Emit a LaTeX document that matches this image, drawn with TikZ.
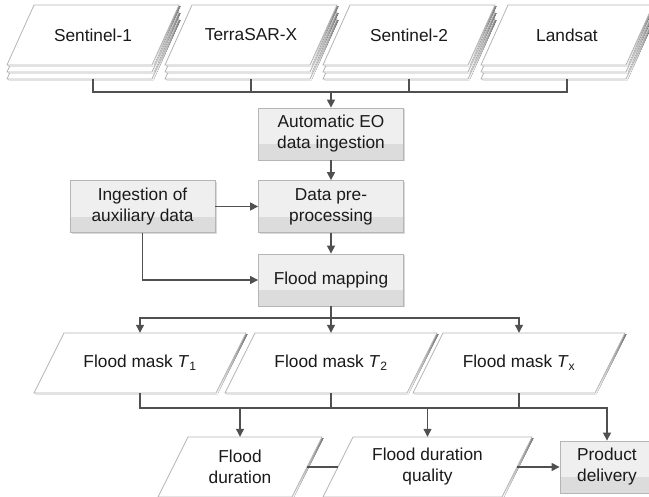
\documentclass[tikz,border=0pt]{standalone}
\usepackage{fontspec}
\setmainfont{Liberation Sans}
\usetikzlibrary{arrows.meta,calc,shadows}
\definecolor{edge}{HTML}{B5B5B5}
\definecolor{conn}{HTML}{505050}
\definecolor{boxtop}{HTML}{EFEFEF}
\definecolor{boxbot}{HTML}{DCDCDC}
\definecolor{shade}{HTML}{E6E6E6}
\definecolor{txt}{HTML}{1A1A1A}
% #1 cx, #2 cy, #3 width, #4 height, #5 skew
\newcommand\parashape[5]{%
  \fill[shade] ({#1-#3/2+#5/2+1.5},{#2-#4/2+1.2}) -- ++(#3,0) -- ++({-#5},#4) -- ++({-#3},0) -- cycle;
  \filldraw[parafill] ({#1-#3/2+#5/2},{#2-#4/2}) -- ++(#3,0) -- ++({-#5},#4) -- ++({-#3},0) -- cycle;
}
\tikzset{
  lbl/.style={font=\fontsize{17.3}{21}\selectfont, text=txt, align=center},
  parafill/.style={draw=edge, fill=white, line width=0.8pt},
  paranode/.style={lbl, draw=none, inner sep=0pt},
  gbox/.style={lbl, draw=edge, line width=0.8pt, minimum width=145pt, minimum height=52pt, inner sep=2pt,
    drop shadow={shadow xshift=1.5pt, shadow yshift=-1.5pt, fill=black!15, opacity=1},
    path picture={
      \fill[boxtop] (path picture bounding box.north west) rectangle (path picture bounding box.south east);
      \fill[boxbot] ($(path picture bounding box.south west)!0.3!(path picture bounding box.north west)$) rectangle (path picture bounding box.south east);
    }},
  conn/.style={draw=conn, line width=1.2pt},
  arr/.style={conn, -{Triangle[length=8pt,width=8pt]}}
}
\begin{document}
\begin{tikzpicture}[x=1pt,y=-1pt]
\useasboundingbox (0,0) rectangle (649,497);
% top stacks
\foreach \cx in {93,251,409,567}{
  \parashape{\cx}{49}{145}{60}{27}
  \parashape{\cx}{42}{145}{60}{27}
  \parashape{\cx}{35}{145}{60}{27}
}
\node[paranode, minimum width=145pt, minimum height=60pt] (s1) at (93,35) {Sentinel-1};
\node[paranode, minimum width=145pt, minimum height=60pt] (s2) at (251,35) {TerraSAR-X};
\node[paranode, minimum width=145pt, minimum height=60pt] (s3) at (409,35) {Sentinel-2};
\node[paranode, minimum width=145pt, minimum height=60pt] (s4) at (567,35) {Landsat};
\coordinate (s1b) at (93,79);
\coordinate (s2b) at (251,79);
\coordinate (s3b) at (409,79);
\coordinate (s4b) at (567,79);
\coordinate (jtop) at (331,92);

% processing boxes
\node[gbox] (auto) at (331,134) {Automatic EO\\data ingestion};
\node[gbox] (pre) at (331,206.5) {Data pre-\\processing};
\node[gbox] (fmap) at (331,280) {Flood mapping};
\node[gbox] (aux) at (142.5,206.5) {Ingestion of\\auxiliary data};

% flood masks
\parashape{140}{363}{182}{60}{30}
\parashape{331}{363}{182}{60}{30}
\parashape{519}{363}{182}{60}{30}
\node[paranode, minimum width=182pt, minimum height=60pt] (m1) at (140,363) {Flood mask \textit{T}\textsubscript{1}};
\node[paranode, minimum width=182pt, minimum height=60pt] (m2) at (331,363) {Flood mask \textit{T}\textsubscript{2}};
\node[paranode, minimum width=182pt, minimum height=60pt] (mx) at (519,363) {Flood mask \textit{T}\textsubscript{x}};
\coordinate (jmid) at (331,318);
\coordinate (jbot) at (331,408);

% outputs
\parashape{240}{467}{134}{60}{30}
\parashape{427.5}{467}{179}{60}{30}
\node[paranode, minimum width=134pt, minimum height=60pt] (dur) at (240,467) {Flood\\duration};
\node[paranode, minimum width=179pt, minimum height=60pt] (fdq) at (427.5,467) {Flood duration\\quality};
\node[gbox, minimum width=94pt] (prod) at (607,467) {Product\\delivery};

% connectors
\draw[conn] (s1b) |- (jtop);
\draw[conn] (s4b) |- (jtop);
\draw[conn] (s2b) -- (s2b |- jtop);
\draw[conn] (s3b) -- (s3b |- jtop);
\draw[arr] (jtop) -- (auto.north);
\draw[arr] (auto.south) -- (pre.north);
\draw[arr] (pre.south) -- (fmap.north);
\draw[arr] (aux.east) -- (pre.west);
\draw[arr] (aux.south) |- (fmap.west);
\draw[conn] (fmap.south) -- (jmid);
\draw[arr] (jmid) -| (m1.north);
\draw[arr] (jmid) -| (mx.north);
\draw[arr] (jmid) -- (m2.north);
\draw[conn] (m1.south) |- (jbot);
\draw[conn] (m2.south) -- (jbot);
\draw[conn] (mx.south) -- (mx.south |- jbot);
\draw[arr] (jbot) -| (prod.north);
\draw[arr] (dur.north |- jbot) -- (dur.north);
\draw[arr] (fdq.north |- jbot) -- (fdq.north);
\draw[conn] (dur.east) -- (fdq.west);
\draw[arr] (fdq.east) -- (prod.west);
\end{tikzpicture}
\end{document}
